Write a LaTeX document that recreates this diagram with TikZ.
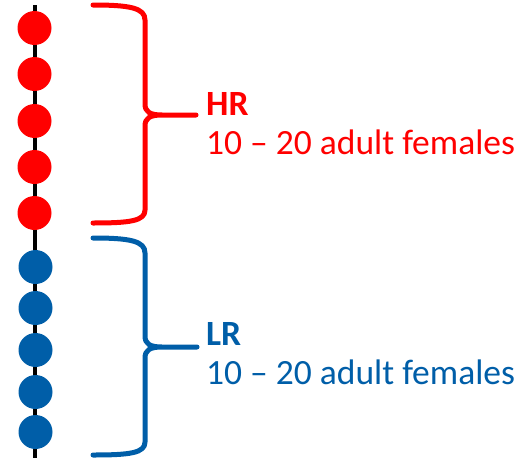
\documentclass[tikz,border=0pt]{standalone}
\usepackage{fontspec}
\setmainfont{Carlito}
\definecolor{hrred}{RGB}{255,0,0}
\definecolor{lrblue}{RGB}{0,94,168}
\begin{document}
\begin{tikzpicture}[x=1pt,y=-1pt,
  bead/.style={circle,minimum size=34pt,inner sep=0pt,fill=#1},
  brace/.style={draw=#1,line width=5pt,line cap=round,line join=round},
  label/.style={anchor=base west,inner sep=0pt,text=#1,font=\fontsize{35.5}{40}\selectfont}]
\useasboundingbox (0,0) rectangle (522,463);

% the chain
\coordinate (top) at (35,5);
\coordinate (bot) at (35,458);
\draw[line width=4.5pt] (top) -- (bot);

% high-ranking females
\foreach \y [count=\i] in {28,74,121,167,213}
  \node[bead=hrred] (r\i) at (34.5,\y) {};
% low-ranking females
\foreach \y [count=\i] in {267,308,350,392,432}
  \node[bead=lrblue] (b\i) at (35.5,\y) {};

% braces
\draw[brace=hrred] (93,5) .. controls (130,5) and (145,8) .. (145,20)
  -- (145,104) .. controls (145,112) and (150,115) .. (162,115) -- (196,115)
  (162,115) .. controls (150,115) and (145,118) .. (145,126)
  -- (145,210) .. controls (145,221) and (130,223) .. (93,223);
\draw[brace=lrblue] (93,238) .. controls (130,238) and (145,241) .. (145,253)
  -- (145,336) .. controls (145,344) and (150,347) .. (162,347) -- (197,347)
  (162,347) .. controls (150,347) and (145,350) .. (145,358)
  -- (145,442) .. controls (145,453) and (130,455) .. (93,455);

% labels
\node[label=hrred,font=\fontsize{35.5}{40}\selectfont\bfseries] (hr) at (206,115) {HR};
\node[label=hrred] (hrn) at (206,154) {10 -- 20 adult females};
\node[label=lrblue,font=\fontsize{35.5}{40}\selectfont\bfseries] (lr) at (206,345) {LR};
\node[label=lrblue] (lrn) at (206,384) {10 -- 20 adult females};
\end{tikzpicture}
\end{document}
